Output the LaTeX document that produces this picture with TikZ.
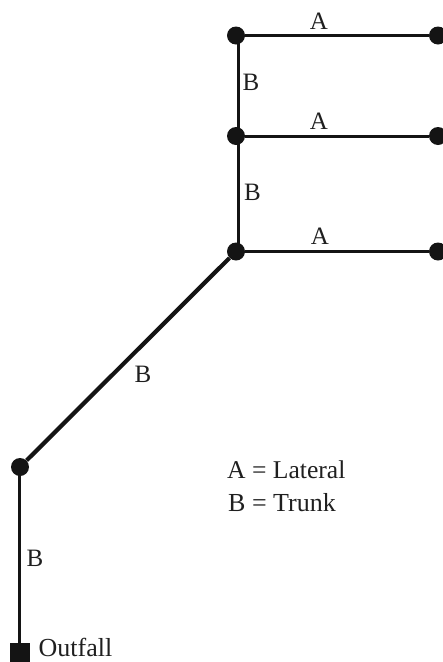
\documentclass[tikz,border=0pt]{standalone}
\usepackage{fontspec}
\setmainfont{Liberation Serif}
\tikzset{
  dotnode/.style={circle,fill=black!92,inner sep=0pt,minimum size=18pt},
  outnode/.style={rectangle,fill=black!92,inner sep=0pt,minimum size=20pt},
  pipe/.style={line width=3pt,black!92},
  thickpipe/.style={line width=4.2pt,black!92},
  lab/.style={inner sep=0pt,font=\fontsize{25}{30}\selectfont,text=black!88},
  legend/.style={inner sep=0pt,font=\fontsize{26}{30}\selectfont,text=black!88,anchor=base west},
}
\begin{document}
\begin{tikzpicture}[x=1pt,y=-1pt]
\useasboundingbox (0,0) rectangle (443,662);
\clip (0,0) rectangle (443,662);
\node[dotnode] (a) at (236,35.5) {};
\node[dotnode] (b) at (236,136) {};
\node[dotnode] (c) at (236,251.5) {};
\node[dotnode] (a2) at (438,35.5) {};
\node[dotnode] (b2) at (438,136) {};
\node[dotnode] (c2) at (438,251.5) {};
\node[dotnode] (d) at (20,467) {};
\node[outnode] (e) at (20,653) {};
\draw[pipe] (a) -- (a2);
\draw[pipe] (b) -- (b2);
\draw[pipe] (c) -- (c2);
\draw[pipe] ([xshift=2pt]a.center) -- ([xshift=2pt]b.center);
\draw[pipe] ([xshift=2pt]b.center) -- ([xshift=2pt]c.center);
\draw[thickpipe] (c) -- (d);
\draw[pipe] ([xshift=-0.5pt]d.center) -- ([xshift=-0.5pt]e.center);
\node[lab] (l1) at (319,21.5) {A};
\node[lab] (l2) at (319,121.5) {A};
\node[lab] (l3) at (320,236) {A};
\node[lab] (l4) at (251,82.5) {B};
\node[lab] (l5) at (252.5,192) {B};
\node[lab] (l6) at (143,374.5) {B};
\node[lab] (l7) at (35,558.5) {B};
\node[legend,font=\fontsize{25.6}{30}\selectfont] (l8) at (227,478) {A = Lateral};
\node[legend] (l9) at (228,511) {B = Trunk};
\node[legend] (l10) at (38.5,656) {Outfall};
\end{tikzpicture}
\end{document}
